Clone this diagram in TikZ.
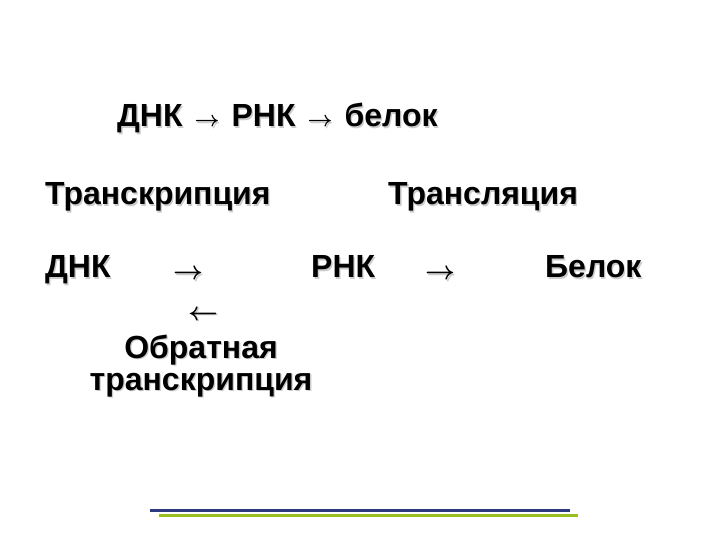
\documentclass[tikz,border=0pt]{standalone}
\usepackage{fontspec}
\usepackage{graphicx}
\setmainfont{Liberation Sans}
\usetikzlibrary{positioning}
\definecolor{rulenavy}{RGB}{46,56,126}
\definecolor{rulegreen}{RGB}{153,192,33}
\newcommand*{\shd}[1]{\rlap{\kern1.3bp\raisebox{-1.3bp}{\color{black!20}#1}}#1}
\newcommand*{\ar}[2]{\resizebox{#1}{!}{\boldmath$#2$}}

\begin{document}
\begin{tikzpicture}[x=1bp,y=-1bp,
    word/.style ={font=\fontsize{32bp}{32bp}\selectfont\bfseries,
      inner sep=0pt, anchor=base west},
    word_center/.style ={word, align=center, anchor=base},
    rule_line/.style ={line width=3bp}]
    \useasboundingbox (0,0) rectangle (720,540);
    % top line
    \node [word] (scheme) at (117,127)
      {\shd{ДНК\hspace{12bp}\ar{25bp}{\rightarrow}\hspace{12bp}РНК\hspace{12bp}\ar{25bp}{\rightarrow}\hspace{12bp}белок}};
    % process names
    \node [word] (transcr) at (45,205) {\shd{Транскрипция}};
    \node [word] (transl) at (388,205) {\shd{Трансляция}};
    % molecules
    \node [word] (dna) at (45,278) {\shd{ДНК}};
    \node [word] (fwd_a) at (173,280) {\shd{\ar{30bp}{\rightarrow}}};
    \node [word] (rna) at (311,278) {\shd{РНК}};
    \node [word] (fwd_b) at (425,280) {\shd{\ar{30bp}{\rightarrow}}};
    \node [word] (protein) at (545,278) {\shd{Белок}};
    % reverse transcription
    \node [word] (back) at (188,320) {\shd{\ar{30bp}{\leftarrow}}};
    \node [word_center] (reverse) at (201,390) {\shd{Обратная}\\\shd{транскрипция}};
    % rules at the bottom
    \draw [rule_line, rulenavy] (150,510) -- (570,510);
    \draw [rule_line, rulegreen] (159,515) -- (578,515);
  \end{tikzpicture}
\end{document}
